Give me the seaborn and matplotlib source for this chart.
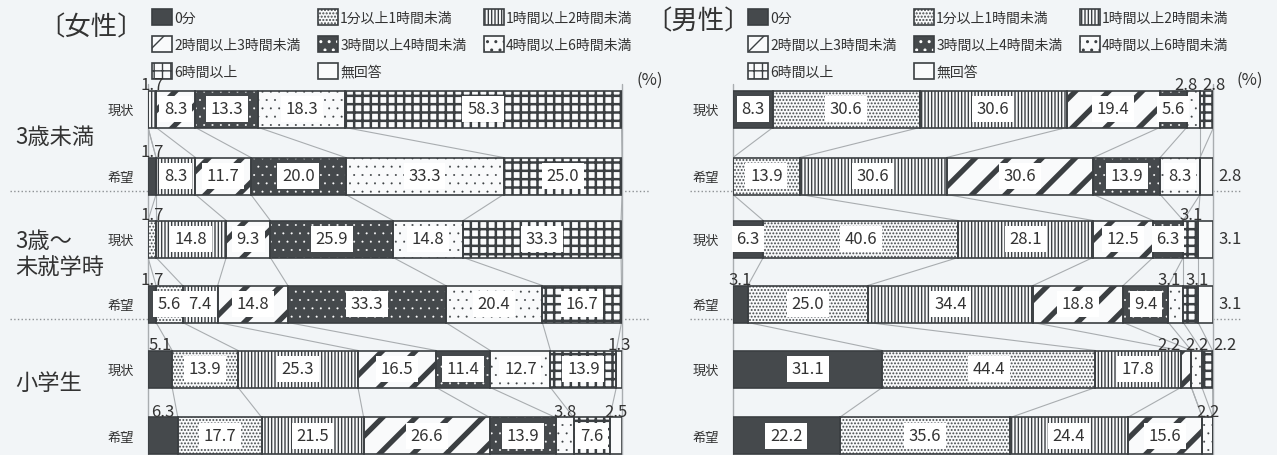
import numpy as np
import matplotlib.pyplot as plt
import matplotlib.transforms as mtransforms
from matplotlib.patches import Patch
import seaborn as sns

# categories and rows
categories = ['0分', '1分以上1時間未満', '1時間以上2時間未満', '2時間以上3時間未満',
              '3時間以上4時間未満', '4時間以上6時間未満', '6時間以上', '無回答']
groups = ['3歳未満', '3歳〜\n未就学時', '小学生']
kinds = ['現状', '希望']

# female (%)
f_u3_now = [0, 0, 1.7, 8.3, 13.3, 18.3, 58.3, 0]
f_u3_hope = [1.7, 0, 8.3, 11.7, 20.0, 33.3, 25.0, 0]
f_pre_now = [0, 1.7, 14.8, 9.3, 25.9, 14.8, 33.3, 0]
f_pre_hope = [1.7, 5.6, 7.4, 14.8, 33.3, 20.4, 16.7, 0]
f_ele_now = [5.1, 13.9, 25.3, 16.5, 11.4, 12.7, 13.9, 1.3]
f_ele_hope = [6.3, 17.7, 21.5, 26.6, 13.9, 3.8, 7.6, 2.5]

# male (%)
m_u3_now = [8.3, 30.6, 30.6, 19.4, 5.6, 2.8, 2.8, 0]
m_u3_hope = [0, 13.9, 30.6, 30.6, 13.9, 8.3, 0, 2.8]
m_pre_now = [6.3, 40.6, 28.1, 12.5, 6.3, 0, 3.1, 3.1]
m_pre_hope = [3.1, 25.0, 34.4, 18.8, 9.4, 3.1, 3.1, 3.1]
m_ele_now = [31.1, 44.4, 17.8, 2.2, 0, 2.2, 2.2, 0]
m_ele_hope = [22.2, 35.6, 24.4, 15.6, 0, 2.2, 0, 0]

female_rows = [f_u3_now, f_u3_hope, f_pre_now, f_pre_hope, f_ele_now, f_ele_hope]
male_rows = [m_u3_now, m_u3_hope, m_pre_now, m_pre_hope, m_ele_now, m_ele_hope]

sns.set_theme(style='white')
plt.rcParams['font.family'] = ['Noto Sans CJK JP', 'DejaVu Sans']
plt.rcParams['hatch.linewidth'] = 1.0

W, H = 1277, 456
BG = '#f2f5f7'
DARK = '#45494c'
EDGE = '#3b3f42'
LIGHT = '#f9fafb'
GRAY = '#a9adb0'

styles = [
    dict(face=DARK, hatch=None, hc=EDGE, hlw=None),
    dict(face=LIGHT, hatch='.....', hc='#45494c', hlw=0.9),
    dict(face=LIGHT, hatch='|||||', hc=EDGE, hlw=1.0),
    dict(face=LIGHT, hatch='/', hc=EDGE, hlw=3.8),
    dict(face=DARK, hatch='..', hc='white', hlw=0.2),
    dict(face=LIGHT, hatch='..', hc=EDGE, hlw=0.2),
    dict(face=LIGHT, hatch='++', hc=EDGE, hlw=1.8),
    dict(face=LIGHT, hatch=None, hc=EDGE, hlw=None),
]

row_y = [110, 177, 240, 305, 370, 437]
bar_h = 37
group_label_y = [138, 255, 383]

fig = plt.figure(figsize=(W / 100, H / 100), dpi=100, facecolor=BG)


def spread(items, gap):
    # push apart labels that sit above the bar
    for _ in range(5):
        moved = False
        i = 0
        while i < len(items):
            j = i
            while j + 1 < len(items) and items[j + 1][0] - items[j][0] < gap - 1e-6:
                j += 1
            if j > i:
                c = np.mean([it[0] for it in items[i:j + 1]])
                n = j - i + 1
                for k in range(n):
                    items[i + k][0] = c + (k - (n - 1) / 2) * gap
                moved = True
            i = j + 1
        if not moved:
            break


def draw_panel(left_px, width_px, rows, female, sep_x):
    ax = fig.add_axes([left_px / W, 0, width_px / W, 1])
    ax.set_facecolor('none')
    ax.set_xlim(0, 100)
    ax.set_ylim(H, 0)
    sns.despine(ax=ax, left=True, bottom=True)
    ax.set_xticks([])
    ax.set_yticks(row_y)
    ax.set_yticklabels(kinds * 3, fontsize=9.5, color='#333')
    ax.tick_params(axis='y', length=0, pad=10)

    vals = np.array(rows, dtype=float)
    cum = np.hstack([np.zeros((len(rows), 1)), np.cumsum(vals, axis=1)])

    for j, st in enumerate(styles):
        bars = ax.barh(row_y, vals[:, j], left=cum[:, j], height=bar_h,
                       color=st['face'], edgecolor=st['hc'], hatch=st['hatch'],
                       linewidth=0, zorder=3)
        if st['hlw']:
            for b in bars:
                if hasattr(b, 'set_hatch_linewidth'):
                    b.set_hatch_linewidth(st['hlw'])
        ax.barh(row_y, vals[:, j], left=cum[:, j], height=bar_h, fill=False,
                edgecolor=EDGE, linewidth=1.2, zorder=4)

    # connectors between consecutive bars
    for r in range(len(rows) - 1):
        for k in range(1, 8):
            ax.plot([cum[r, k], cum[r + 1, k]],
                    [row_y[r] + bar_h / 2, row_y[r + 1] - bar_h / 2],
                    color=GRAY, lw=0.8, zorder=1)
    for x in (0, 100):
        ax.plot([x, x], [85, H], color=GRAY, lw=1, zorder=1, clip_on=False)

    trans = mtransforms.blended_transform_factory(fig.transFigure, ax.transData)
    for y in (row_y[1] + 15, row_y[3] + 15):
        ax.plot([sep_x[0] / W, sep_x[1] / W], [y, y], transform=trans, ls=':',
                color='#8d9194', lw=1, clip_on=False, zorder=0.5)

    # value labels
    for r in range(len(rows)):
        above = []
        for j in range(8):
            v = vals[r, j]
            if v == 0:
                continue
            cx = cum[r, j] + v / 2
            if j == 7 and not female:
                ax.text(101.2, row_y[r], f'{v:.1f}', ha='left', va='center',
                        fontsize=12, color='#333', zorder=6, clip_on=False)
            elif v < 5.5 or (female and j == 0):
                above.append([cx, v])
            else:
                ax.text(cx, row_y[r], f'{v:.1f}', ha='center', va='center',
                        fontsize=12, color='#333', zorder=6,
                        bbox=dict(boxstyle='square,pad=0.28', fc='white', ec='none'))
        spread(above, 5.8)
        for cx, v in above:
            ax.text(cx, row_y[r] - bar_h / 2 + 3, f'{v:.1f}', ha='center',
                    va='bottom', fontsize=12, color='#333', zorder=6, clip_on=False)

    if female:
        for name, y in zip(groups, group_label_y):
            ax.text(15 / W, y, name, transform=trans, ha='left', va='center',
                    fontsize=16, color='#333', linespacing=1.2)
    return ax


ax_f = draw_panel(148, 474, female_rows, True, (10, 650))
ax_m = draw_panel(733, 480, male_rows, False, (690, 1240))

# legends
order = [0, 3, 6, 1, 4, 7, 2, 5]
handles = []
for st in styles:
    p = Patch(facecolor=st['face'], edgecolor=st['hc'], hatch=st['hatch'], linewidth=0)
    if st['hlw'] and hasattr(p, 'set_hatch_linewidth'):
        p.set_hatch_linewidth(st['hlw'])
    handles.append((p, Patch(fill=False, edgecolor=EDGE, linewidth=1.2)))

for ax, x0 in ((ax_f, 152), (ax_m, 748)):
    ax.legend([handles[i] for i in order], [categories[i] for i in order], ncol=3,
              loc='upper left', bbox_to_anchor=(x0 / W, 1 - 10 / H),
              bbox_transform=fig.transFigure, frameon=False, borderpad=0,
              borderaxespad=0, handlelength=1.45, handleheight=1.45,
              handletextpad=0.15, columnspacing=1.25, labelspacing=0.75,
              fontsize=10, labelcolor='#333')

fig.text(91 / W, 1 - 28 / H, '〔女性〕', ha='center', va='center', fontsize=19, color='#333')
fig.text(698 / W, 1 - 22 / H, '〔男性〕', ha='center', va='center', fontsize=19, color='#333')
fig.text(650 / W, 1 - 80 / H, '(%)', ha='center', va='center', fontsize=12, color='#333')
fig.text(1250 / W, 1 - 80 / H, '(%)', ha='center', va='center', fontsize=12, color='#333')

fig.savefig('out.png', dpi=100, facecolor=BG)
